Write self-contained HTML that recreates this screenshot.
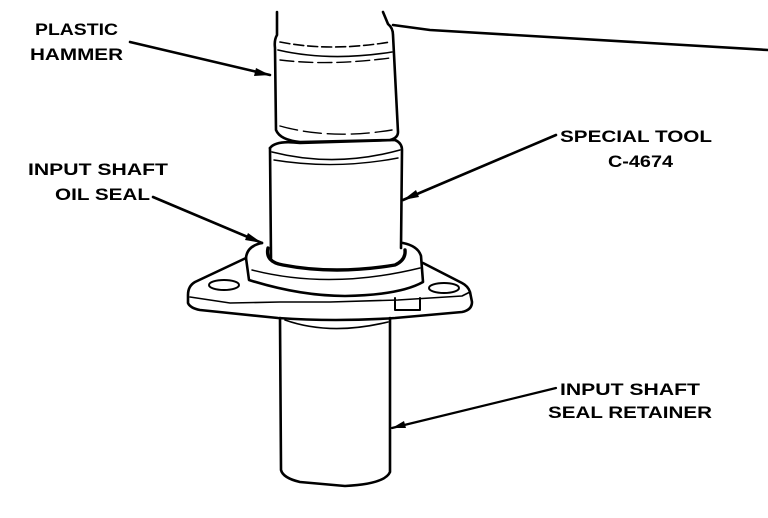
<!DOCTYPE html>
<html><head><style>
html,body{margin:0;padding:0;background:#fff;}
svg{display:block}
text{font-family:"Liberation Sans",sans-serif;font-size:17px;font-weight:bold;fill:#000}
</style></head><body>
<svg width="768" height="518" viewBox="0 0 768 518" xmlns="http://www.w3.org/2000/svg">
<g fill="none" stroke="#000" stroke-width="2.6" stroke-linecap="round" stroke-linejoin="round">
<path d="M277 12 L277 35 Q274 40 275 48 L276 130 Q280 140 300 142 L390 140 Q398 138 398 132 L393 35 Q393 28 388 24 L383 12"/>
<path d="M393 25 L430 30 L768 50"/>
<path d="M280 42 Q330 52 390 42" stroke-width="1.6" stroke-dasharray="10 4"/>
<path d="M278 50 Q330 62 392 52" stroke-width="1.6"/>
<path d="M280 60 Q330 66 390 58" stroke-width="1.4" stroke-dasharray="14 5"/>
<path d="M280 126 Q330 140 392 130" stroke-width="1.4" stroke-dasharray="18 6"/>
<path d="M270 148 Q276 140 300 143 L395 140 Q402 143 402 150 L401 248"/>
<path d="M270 148 L271 258"/>
<path d="M272 152 Q335 168 400 150" stroke-width="1.6"/>
<path d="M274 160 Q335 170 398 158" stroke-width="1.4"/>
<path d="M262 243 Q247 246 246 258 L249 280 Q300 296 345 296 Q400 295 423 282 L421 256 Q418 246 403 243"/>
<path d="M268 248 Q265 262 283 265 Q335 275 395 265 Q406 260 405 250" stroke-width="3.4"/>
<path d="M252 270 Q330 290 420 268" stroke-width="1.5"/>
<path d="M246 258 L195 282 Q188 286 188 295 L188 303 Q190 308 200 310 L278 318 Q335 322 395 318 L462 312 Q472 310 472 302 L470 292 Q468 286 462 283 L423 263"/>
<path d="M190 297 L230 303 L280 302 L330 302 L398 300 L462 296 L470 292" stroke-width="1.6"/>
<ellipse cx="224" cy="285" rx="15" ry="5" stroke-width="2"/>
<ellipse cx="444" cy="288" rx="15" ry="5" stroke-width="2"/>
<path d="M395 298 L395 310 L420 310 L420 298" stroke-width="2"/>
<path d="M280 318 L281 470 Q283 478 300 482 L345 486 Q385 484 390 472 L390 318"/>
<path d="M285 320 Q330 336 388 322" stroke-width="1.6"/>
<path d="M130 42 L270 75" stroke-width="2.6"/>
<path d="M556 135 L403 200" stroke-width="2.6"/>
<path d="M153 197 L262 243" stroke-width="2.6"/>
<path d="M556 388 L392 428" stroke-width="2.2"/>
</g>
<g fill="#000">
<polygon points="270,75 256,68 254,76"/>
<polygon points="403,200 416,190 419,197"/>
<polygon points="262,243 248,233 245,240"/>
<polygon points="392,428 404,421 406,428"/>
</g>
<text x="35" y="35" textLength="83" lengthAdjust="spacingAndGlyphs">PLASTIC</text>
<text x="30" y="60" textLength="93" lengthAdjust="spacingAndGlyphs">HAMMER</text>
<text x="560" y="142" textLength="152" lengthAdjust="spacingAndGlyphs">SPECIAL TOOL</text>
<text x="608" y="167" textLength="65" lengthAdjust="spacingAndGlyphs">C-4674</text>
<text x="28" y="175" textLength="140" lengthAdjust="spacingAndGlyphs">INPUT SHAFT</text>
<text x="55" y="200" textLength="95" lengthAdjust="spacingAndGlyphs">OIL SEAL</text>
<text x="560" y="395" textLength="140" lengthAdjust="spacingAndGlyphs">INPUT SHAFT</text>
<text x="548" y="418" textLength="164" lengthAdjust="spacingAndGlyphs">SEAL RETAINER</text>
</svg>
</body></html>
